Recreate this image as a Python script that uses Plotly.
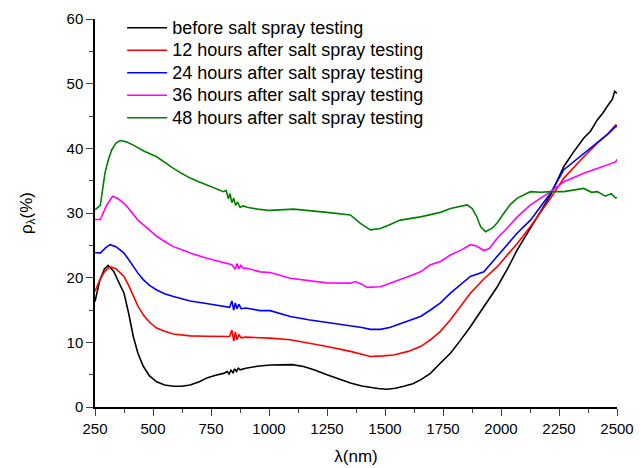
import plotly.graph_objects as go

# before salt spray testing
x_before = [250, 270, 290, 307, 330, 350, 375, 395, 415, 435, 458, 485, 516, 550, 588, 625, 660, 700, 732, 770, 804,
            820, 828, 836, 845, 852, 860, 868, 876, 900, 950, 1005, 1063, 1100, 1149, 1200, 1250, 1300, 1351, 1400,
            1437, 1470, 1509, 1545, 1581, 1620, 1653, 1696, 1739, 1782, 1825, 1868, 1926, 1984, 2030, 2070, 2127,
            2170, 2214, 2271, 2310, 2357, 2385, 2415, 2440, 2460, 2480, 2490, 2500]
y_before = [16.3, 19.5, 21.3, 21.9, 21.0, 19.6, 17.6, 14.5, 10.9, 8.3, 6.3, 4.8, 3.9, 3.4, 3.2, 3.2, 3.4, 3.9, 4.5, 4.9, 5.2,
            5.5, 5.1, 5.7, 5.3, 5.9, 5.5, 6.0, 5.75, 6.0, 6.3, 6.5, 6.6, 6.55, 6.25, 5.7, 5.0, 4.35, 3.7, 3.25,
            3.0, 2.85, 2.75, 2.9, 3.2, 3.6, 4.2, 5.2, 6.8, 8.3, 10.3, 12.4, 15.5, 18.6, 21.5, 24.3, 27.65,
            30.2, 32.8, 37.2, 39.3, 41.6, 42.6, 44.4, 45.5, 46.6, 47.6, 48.8, 48.5]

# 12 hours
x_12 = [250, 270, 290, 315, 340, 375, 395, 415, 435, 458, 485, 516, 550, 588, 625, 660, 730, 804, 830, 840, 848, 855,
        862, 870, 880, 900, 950, 1005, 1092, 1170, 1250, 1351, 1437, 1490, 1537, 1600, 1653, 1696, 1739, 1782,
        1868, 1926, 1984, 2070, 2127, 2214, 2271, 2357, 2415, 2460, 2494, 2500]
y_12 = [17.9, 19.6, 20.9, 21.7, 21.4, 20.2, 18.8, 17.1, 15.6, 14.25, 13.1, 12.2, 11.7, 11.3, 11.1, 11.0, 10.95, 10.9, 10.9, 11.9, 10.2, 11.6,
        10.4, 11.2, 10.7, 10.8, 10.75, 10.65, 10.4, 9.9, 9.35, 8.6, 7.8, 7.9, 8.05, 8.6, 9.35, 10.4, 11.7, 13.5,
        17.6, 19.8, 21.7, 25.3, 27.9, 32.3, 35.4, 38.7, 40.8, 42.2, 43.6, 43.5]

# 24 hours
x_24 = [250, 273, 295, 315, 340, 375, 395, 415, 435, 458, 485, 516, 550, 588, 625, 660, 730, 804, 830, 840, 848, 855,
        862, 870, 880, 900, 962, 1005, 1092, 1170, 1250, 1300, 1351, 1400, 1437, 1480, 1520, 1566, 1610, 1653,
        1696, 1739, 1782, 1868, 1926, 1984, 2070, 2127, 2214, 2271, 2357, 2415, 2460, 2494, 2500]
y_24 = [23.9, 23.8, 24.6, 25.1, 24.8, 23.8, 22.8, 21.7, 20.7, 19.7, 18.8, 18.1, 17.5, 17.1, 16.7, 16.4, 16.0, 15.6, 15.4, 16.4, 15.0, 16.1,
        15.2, 15.9, 15.2, 15.3, 14.9, 14.9, 14.0, 13.5, 13.1, 12.8, 12.55, 12.3, 12.0, 12.0, 12.3, 12.85, 13.4, 14.0,
        15.0, 16.1, 17.6, 20.2, 20.9, 23.3, 26.9, 28.9, 33.1, 36.7, 39.2, 41.0, 42.2, 43.35, 43.4]

# 36 hours
x_36 = [250, 273, 300, 326, 350, 375, 395, 415, 435, 458, 485, 516, 550, 588, 625, 660, 732, 804, 840, 855, 862,
        870, 878, 890, 900, 962, 1005, 1092, 1170, 1250, 1351, 1372, 1400, 1423, 1480, 1520, 1566, 1610, 1653,
        1696, 1739, 1782, 1830, 1868, 1895, 1926, 1950, 1984, 2030, 2070, 2127, 2214, 2271, 2357, 2415, 2460, 2494, 2500]
y_36 = [29.0, 29.0, 31.2, 32.6, 32.2, 31.5, 30.7, 29.7, 28.9, 28.2, 27.3, 26.4, 25.6, 24.8, 24.3, 23.8, 23.0, 22.3, 22.0, 21.3, 22.2,
        21.4, 21.9, 21.4, 21.5, 20.9, 20.8, 19.9, 19.5, 19.2, 19.15, 19.4, 19.0, 18.5, 18.6, 19.1, 19.7, 20.3, 20.9,
        22.0, 22.5, 23.5, 24.3, 25.1, 24.9, 24.2, 24.5, 26.1, 27.8, 29.4, 31.25, 33.3, 34.85, 36.15, 36.9, 37.4, 37.9, 38.3]

# 48 hours
x_48 = [250, 273, 293, 308, 322, 340, 358, 385, 415, 460, 516, 550, 588, 625, 660, 700, 732, 770, 804, 815, 825,
        832, 840, 848, 856, 865, 875, 890, 905, 950, 1005, 1106, 1180, 1250, 1351, 1394, 1437, 1480, 1520, 1566,
        1653, 1739, 1782, 1854, 1876, 1895, 1912, 1933, 1962, 1984, 2013, 2040, 2070, 2127, 2170, 2214, 2271,
        2320, 2357, 2390, 2415, 2450, 2475, 2494, 2500]
y_48 = [30.5, 31.2, 36.2, 38.3, 39.75, 40.8, 41.2, 41.0, 40.5, 39.6, 38.7, 37.8, 36.9, 36.1, 35.4, 34.8, 34.3, 33.8, 33.3, 33.5, 32.2,
        33.0, 31.6, 32.3, 31.2, 31.7, 30.9, 31.1, 30.9, 30.6, 30.4, 30.6, 30.4, 30.1, 29.7, 28.4, 27.4, 27.6, 28.2, 28.9,
        29.4, 30.1, 30.7, 31.25, 30.7, 29.5, 27.9, 27.1, 27.65, 28.5, 30.0, 31.3, 32.3, 33.3, 33.2, 33.3, 33.3,
        33.6, 33.8, 33.2, 33.3, 32.6, 33.0, 32.3, 32.4]

names = ["before salt spray testing",
         "12 hours after salt spray testing",
         "24 hours after salt spray testing",
         "36 hours after salt spray testing",
         "48 hours after salt spray testing"]
colors = ["#000000", "#ff0000", "#0000ff", "#ff00ff", "#008000"]
xs_all = [x_before, x_12, x_24, x_36, x_48]
ys_all = [y_before, y_12, y_24, y_36, y_48]

x_ticks = [250, 500, 750, 1000, 1250, 1500, 1750, 2000, 2250, 2500]
y_ticks = [0, 10, 20, 30, 40, 50, 60]

fig = go.Figure()
for name, xs, ys, col in zip(names, xs_all, ys_all, colors):
    fig.add_trace(go.Scatter(x=xs, y=ys, mode="lines",
                             name="<span style='font-size:18px'>" + name + "</span>",
                             line=dict(color=col, width=1.6)))

font_family = "Liberation Sans, Arial, sans-serif"
fig.update_layout(
    width=643, height=468,
    margin=dict(l=87, r=34, t=2, b=69),
    paper_bgcolor="white", plot_bgcolor="white",
    font=dict(family=font_family, color="black", size=15),
    showlegend=True,
    legend=dict(x=0.052, y=0.9962, xanchor="left", yanchor="top",
                bgcolor="rgba(0,0,0,0)", font=dict(size=15, family=font_family),
                tracegroupgap=0, itemwidth=40),
    xaxis=dict(range=[250, 2500], tickvals=x_ticks, ticks="outside", ticklen=7, tickwidth=1.3,
               showline=True, linecolor="black", linewidth=1.5, showgrid=False, zeroline=False,
               automargin=False,
               minor=dict(ticks="outside", ticklen=4, tickwidth=1.2, dtick=125, tick0=250, showgrid=False),
               tickfont=dict(size=15),
               title=dict(text="λ(nm)", font=dict(size=17), standoff=14)),
    yaxis=dict(range=[0, 60], domain=[0, 0.9773], tickvals=y_ticks, ticks="outside", ticklen=7, tickwidth=1.3,
               showline=True, linecolor="black", linewidth=1.5, showgrid=False, zeroline=False,
               automargin=False,
               minor=dict(ticks="outside", ticklen=4, tickwidth=1.2, dtick=5, tick0=0, showgrid=False),
               tickfont=dict(size=15),
               title=dict(text="ρ<sub>λ</sub>(%)", font=dict(size=17), standoff=30)),
)

fig.write_html("out.html")
